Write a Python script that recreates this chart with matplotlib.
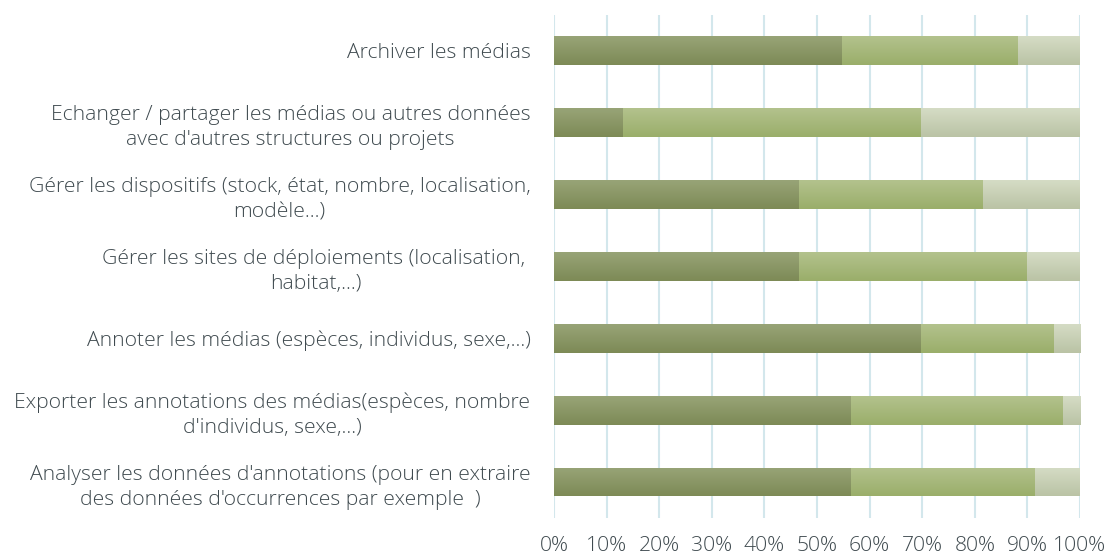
import numpy as np
import matplotlib
matplotlib.use("Agg")
from matplotlib import pyplot as plt
from matplotlib.colors import LinearSegmentedColormap

plt.rcParams['font.family'] = ['Open Sans', 'DejaVu Sans']
plt.rcParams['font.weight'] = 'light'

labels = [
    "Archiver les médias",
    "Echanger / partager les médias ou autres données\navec d'autres structures ou projets",
    "Gérer les dispositifs (stock, état, nombre, localisation,\nmodèle...)",
    "Gérer les sites de déploiements (localisation, \nhabitat,...)",
    "Annoter les médias (espèces, individus, sexe,...)",
    "Exporter les annotations des médias(espèces, nombre\nd'individus, sexe,...)",
    "Analyser les données d'annotations (pour en extraire\ndes données d'occurrences par exemple  )",
]
# shares in %
part1 = [54.8, 13.1, 46.6, 46.6, 69.8, 56.5, 56.5]
part2 = [33.5, 56.7, 35.0, 43.4, 25.2, 40.2, 35.0]
part3 = [11.7, 30.2, 18.4, 10.0, 5.0, 3.3, 8.5]

# top / bottom colours of the gradient fill
grads = [("#98a477", "#7d8a56"), ("#b3c28d", "#9aae6a"), ("#d5dcc5", "#bac3a5")]

fig = plt.figure(figsize=(11.12, 5.59), dpi=100)
ax = fig.add_axes([0.4982, 0.0733, 0.4730, 0.9])

y = np.arange(len(labels))
left = np.zeros(len(labels))
for vals, (top, bot) in zip([part1, part2, part3], grads):
    bars = ax.barh(y, vals, left=left, height=0.4, color=bot, zorder=2)
    cmap = LinearSegmentedColormap.from_list("g", [top, bot])
    grad = np.linspace(0, 1, 64).reshape(-1, 1)
    for b in bars:
        x0, y0 = b.get_x(), b.get_y()
        w, h = b.get_width(), b.get_height()
        im = ax.imshow(grad, cmap=cmap, aspect='auto', origin='upper',
                       extent=[x0, x0 + w, y0 + h, y0], zorder=3)
        im.set_clip_path(b)
    left += np.array(vals)

ax.set_xlim(0, 100)
ax.set_ylim(len(labels) - 0.5, -0.5)
ax.set_xticks(np.arange(0, 101, 10))
ax.set_xticklabels([f"{v}%" for v in range(0, 101, 10)])
ax.set_yticks(y)
ax.set_yticklabels(labels, multialignment='center', linespacing=1.35)
ax.tick_params(axis='both', length=0, labelsize=15.2, colors='#3f4a4f')
ax.tick_params(axis='y', pad=17)
ax.tick_params(axis='x', pad=13)
ax.grid(axis='x', color='#d3e7ec', linewidth=1.5, zorder=0)
ax.set_axisbelow(True)
for s in ax.spines.values():
    s.set_visible(False)

fig.savefig("out.png", dpi=100)
